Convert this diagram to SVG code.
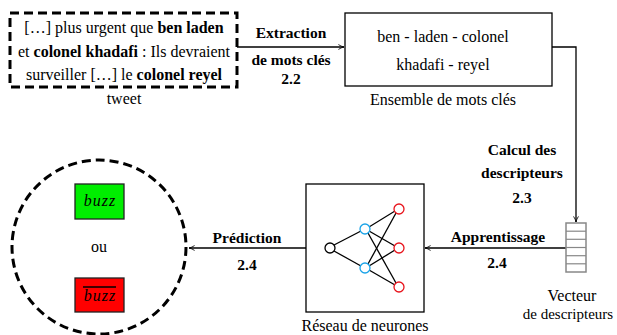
<svg xmlns="http://www.w3.org/2000/svg" width="617" height="335" viewBox="0 0 617 335">
<style>
text{font-family:"Liberation Serif","Times New Roman",serif;font-size:16px;fill:#000}
.b{font-weight:bold}
.lb{font-weight:bold;font-size:15.5px}
.c{text-anchor:middle}
.it{font-style:italic;letter-spacing:1px}
.dash{fill:none;stroke:#000;stroke-width:3;stroke-dasharray:9 5}
.box{fill:#fff;stroke:#000;stroke-width:1.3}
.ln{fill:none;stroke:#000;stroke-width:1.3}
.w{stroke:#000;stroke-width:1.3}
.n{fill:#fff;stroke-width:1.3}
</style>
<defs>
<marker id="ah" viewBox="0 0 10 10" refX="9" refY="5" markerWidth="7" markerHeight="7" orient="auto" markerUnits="userSpaceOnUse">
<path d="M1,1.5 Q5,4.2 9,5 Q5,5.8 1,8.5" fill="none" stroke="#000" stroke-width="1.2"/>
</marker>
</defs>
<rect width="617" height="335" fill="#fff"/>
<g id="connectors">
<line class="ln" x1="237" y1="47" x2="344" y2="47" marker-end="url(#ah)"/>
<polyline class="ln" points="552,47 576,47 576,222" marker-end="url(#ah)"/>
<line class="ln" x1="566" y1="248" x2="425" y2="248" marker-end="url(#ah)"/>
<line class="ln" x1="306" y1="248" x2="189" y2="248" marker-end="url(#ah)"/>
<text class="lb c" x="291" y="38">Extraction</text>
<text class="lb c" x="291" y="65">de mots clés</text>
<text class="lb c" x="291" y="84">2.2</text>
<text class="lb c" x="522" y="155">Calcul des</text>
<text class="lb c" x="522" y="178">descripteurs</text>
<text class="lb c" x="522" y="203">2.3</text>
<text class="lb c" x="498" y="242">Apprentissage</text>
<text class="lb c" x="497" y="268">2.4</text>
<text class="lb c" x="247" y="243">Prédiction</text>
<text class="lb c" x="247" y="270">2.4</text>
</g>
<g id="tweet">
<rect class="dash" x="10" y="13" width="227" height="74"/>
<text class="c" x="124" y="33">[…] plus urgent que <tspan class="b">ben laden</tspan></text>
<text class="c" x="124" y="57">et <tspan class="b">colonel khadafi</tspan> : Ils devraient</text>
<text class="c" x="124" y="80">surveiller […] le <tspan class="b">colonel reyel</tspan></text>
<text class="c" x="124" y="104">tweet</text>
</g>
<g id="keywords">
<rect class="box" x="345" y="13" width="207" height="73"/>
<text class="c" x="443" y="42">ben - laden - colonel</text>
<text class="c" x="443" y="70">khadafi - reyel</text>
<text class="c" x="443" y="105">Ensemble de mots clés</text>
</g>
<g id="vector">
<rect x="566" y="223" width="20" height="49" fill="#fff" stroke="#888" stroke-width="1.5"/>
<g stroke="#888" stroke-width="1.2">
<line x1="566" y1="231.2" x2="586" y2="231.2"/>
<line x1="566" y1="239.3" x2="586" y2="239.3"/>
<line x1="566" y1="247.5" x2="586" y2="247.5"/>
<line x1="566" y1="255.7" x2="586" y2="255.7"/>
<line x1="566" y1="263.8" x2="586" y2="263.8"/>
</g>
<text class="c" x="572" y="301">Vecteur</text>
<text class="c" x="568" y="319" style="font-size:15px">de descripteurs</text>
</g>
<g id="network">
<rect class="box" x="306" y="184" width="118" height="128"/>
<g class="w">
<line x1="334" y1="245" x2="361" y2="231"/>
<line x1="334" y1="251" x2="361" y2="266"/>
<line x1="369" y1="227" x2="395" y2="211"/>
<line x1="369" y1="231" x2="395" y2="246"/>
<line x1="368" y1="233" x2="396" y2="283"/>
<line x1="368" y1="264" x2="396" y2="213"/>
<line x1="369" y1="266" x2="395" y2="250"/>
<line x1="369" y1="270" x2="395" y2="285"/>
</g>
<circle class="n" cx="330" cy="248" r="5" stroke="#000"/>
<circle class="n" cx="365" cy="229" r="5" stroke="#1aa3e8"/>
<circle class="n" cx="365" cy="268" r="5" stroke="#1aa3e8"/>
<circle class="n" cx="399" cy="209" r="5" stroke="#e8141c"/>
<circle class="n" cx="399" cy="248" r="5" stroke="#e8141c"/>
<circle class="n" cx="399" cy="287" r="5" stroke="#e8141c"/>
<text class="c" x="365" y="331">Réseau de neurones</text>
</g>
<g id="prediction">
<circle class="dash" cx="99" cy="247" r="87"/>
<rect x="75" y="184" width="49" height="35" fill="#00ee00" stroke="#222" stroke-width="1.3"/>
<text class="c it" x="100" y="206">buzz</text>
<text class="c" x="99" y="252">ou</text>
<rect x="75" y="278" width="49" height="34" fill="#ff0000" stroke="#222" stroke-width="1.3"/>
<line x1="83" y1="287" x2="116" y2="287" stroke="#000" stroke-width="1.3"/>
<text class="c it" x="100" y="301">buzz</text>
</g>
</svg>
